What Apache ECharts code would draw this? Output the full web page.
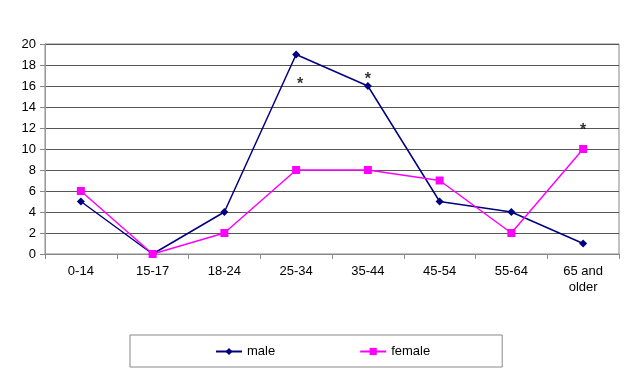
<!DOCTYPE html>
<html><head><meta charset="utf-8">
<script src="https://cdn.jsdelivr.net/npm/echarts@6/dist/echarts.min.js"></script>
<style>html,body{margin:0;padding:0;background:#fff}#c{width:629px;height:386px}</style>
</head><body><div id="c"></div>
<script>
const categories = ['0-14','15-17','18-24','25-34','35-44','45-54','55-64','65 and\nolder'];
const male = [5,0,4,19,16,5,4,1];
const female = [6,0,2,8,8,7,2,10];
const starCats = ['25-34','35-44','65 and\nolder'];
const starVals = [16.5,17,12.1];
const yTicks = [0,2,4,6,8,10,12,14,16,18,20];

const font = 'Arial, "Liberation Sans", sans-serif';
const chart = echarts.init(document.getElementById('c'), null, {renderer:'canvas'});
chart.setOption({
  backgroundColor:'#fff',
  animation:false,
  grid:{left:45,right:10,top:44,bottom:132,show:true,borderColor:'#888',borderWidth:1},
  xAxis:{type:'category',data:categories,boundaryGap:true,
    axisLine:{lineStyle:{color:'#888',width:1}},
    axisTick:{show:true,length:5,lineStyle:{color:'#888'}},
    axisLabel:{color:'#000',fontFamily:font,fontSize:13,margin:9,lineHeight:16,interval:0}},
  yAxis:{type:'value',min:yTicks[0],max:yTicks[yTicks.length-1],interval:2,
    axisLine:{show:true,lineStyle:{color:'#999',width:1}},
    axisTick:{show:true,length:5,lineStyle:{color:'#888'}},
    splitLine:{show:true,lineStyle:{color:'#555',width:1}},
    axisLabel:{color:'#000',fontFamily:font,fontSize:13,margin:9}},
  legend:{left:130,top:335,orient:'horizontal',data:['male','female'],
    borderColor:'#888',borderWidth:1,padding:[10,72,9,85],itemGap:84,
    itemWidth:26,itemHeight:9,
    textStyle:{color:'#000',fontFamily:font,fontSize:13}},
  series:[
    {name:'male',type:'line',data:male,symbol:'diamond',symbolSize:8,
      itemStyle:{color:'#000080'},lineStyle:{color:'#000080',width:1.5}},
    {name:'female',type:'line',data:female,symbol:'rect',symbolSize:8,
      itemStyle:{color:'#FF00FF'},lineStyle:{color:'#FF00FF',width:1.5}},
    {name:'stars',type:'scatter',symbolSize:0,silent:true,
      data:starCats.map((c,i)=>({value:[c,starVals[i]],label:{offset:[i===0?4:0,4]}})),
      label:{show:true,position:'inside',formatter:'*',color:'#000',fontFamily:font,fontSize:16,fontWeight:'bold'}}
  ]
});
</script></body></html>
